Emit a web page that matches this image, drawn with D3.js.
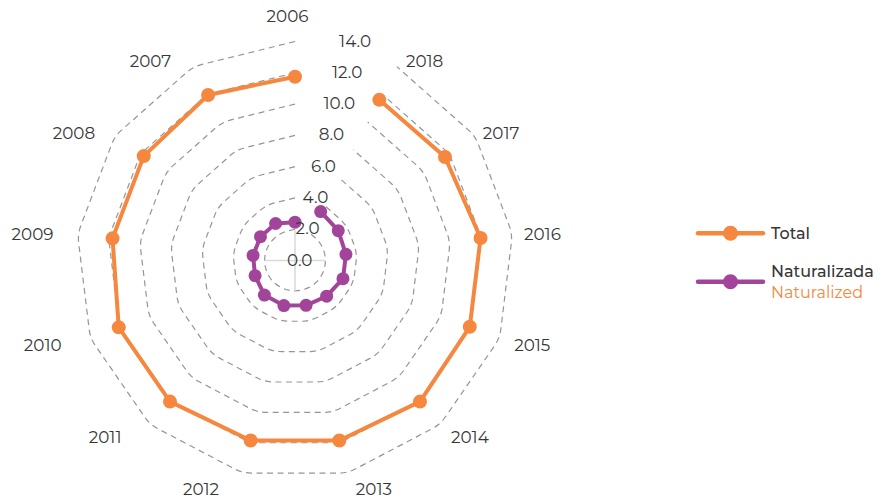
<!DOCTYPE html>
<html>
<head>
<meta charset="utf-8">
<script src="https://cdn.jsdelivr.net/npm/d3@7"></script>
<style>
  html, body { margin: 0; padding: 0; background: #ffffff; }
  svg { display: block; }
  text { font-family: Montserrat, Inter, "DejaVu Sans", sans-serif; fill: #363636; }
</style>
</head>
<body>
<svg id="chart" width="885" height="498"></svg>
<script>
// ---- data ----
const categories = ["2006","2007","2008","2009","2010","2011","2012","2013","2014","2015","2016","2017","2018"];
const totalValues = [11.75, 11.95, 11.75, 11.75, 12.05, 12.05, 11.85, 11.85, 12.05, 11.95, 11.95, 11.65, 11.6];
const naturalizedValues = [2.45, 2.67, 2.68, 2.7, 2.73, 2.95, 2.97, 2.95, 3.05, 3.28, 3.28, 3.36, 3.53];
const tickValues = [0, 2, 4, 6, 8, 10, 12, 14];
const tickLabels = ["0.0", "2.0", "4.0", "6.0", "8.0", "10.0", "12.0", "14.0"];
const seriesNames = ["Total", "Naturalizada"];
const seriesSubNames = ["", "Naturalized"];

// ---- layout ----
const svg = d3.select("#chart");
const cx = 295, cy = 260.5;
const orange = "#f5873f", purple = "#a3449b";
const colors = [orange, purple];

const r = d3.scaleLinear().domain([0, 14]).range([0, 219]);
const n = categories.length;
const angle = d3.scaleLinear().domain([0, n]).range([0, -2 * Math.PI]); // counter-clockwise from top
const pt = (i, v) => [cx + r(v) * Math.sin(angle(i)), cy - r(v) * Math.cos(angle(i))];

// ---- gridlines: open polylines with rounded corners ----
function roundedOpen(points, rad) {
  const p = d3.path();
  p.moveTo(points[0][0], points[0][1]);
  for (let i = 1; i < points.length - 1; i++) {
    const [px, py] = points[i - 1], [x, y] = points[i], [nx, ny] = points[i + 1];
    const l1 = Math.hypot(x - px, y - py), l2 = Math.hypot(nx - x, ny - y);
    const d = Math.min(rad, l1 / 2, l2 / 2);
    p.lineTo(x + (px - x) * d / l1, y + (py - y) * d / l1);
    p.quadraticCurveTo(x, y, x + (nx - x) * d / l2, y + (ny - y) * d / l2);
  }
  const last = points[points.length - 1];
  p.lineTo(last[0], last[1]);
  return p.toString();
}

const grid = svg.append("g");
tickValues.filter(v => v > 0).forEach(v => {
  const pts = categories.map((c, i) => pt(i, v));
  grid.append("path")
    .attr("d", roundedOpen(pts, 9))
    .attr("fill", "none")
    .attr("stroke", "#959595")
    .attr("stroke-width", 1.2)
    .attr("stroke-dasharray", "6,4.5");
});

// centre cross
const crossLen = r(2) - 1;
svg.append("line").attr("x1", cx - crossLen).attr("x2", cx + crossLen).attr("y1", cy).attr("y2", cy)
  .attr("stroke", "#d9d9d9").attr("stroke-width", 1.5);
svg.append("line").attr("x1", cx).attr("x2", cx).attr("y1", cy - crossLen).attr("y2", cy + crossLen)
  .attr("stroke", "#d9d9d9").attr("stroke-width", 1.5);

// ---- series ----
const lineGen = d3.line();
[totalValues, naturalizedValues].forEach((vals, s) => {
  const pts = vals.map((v, i) => pt(i, v));
  const g = svg.append("g");
  g.append("path").attr("d", lineGen(pts)).attr("fill", "none")
    .attr("stroke", colors[s]).attr("stroke-width", 4).attr("stroke-linejoin", "round");
  g.selectAll("circle").data(pts).join("circle")
    .attr("cx", d => d[0]).attr("cy", d => d[1]).attr("r", s === 0 ? 7 : 6.5)
    .attr("fill", colors[s]);
});

// ---- value axis labels ----
svg.append("g").selectAll("text").data(tickValues).join("text")
  .attr("x", v => cx + 4.7 + 0.253 * r(v))
  .attr("y", v => cy - r(v) - 1)
  .attr("dy", "0.36em")
  .attr("text-anchor", "middle")
  .style("font-size", "16.8px")
  .text((v, i) => tickLabels[i]);

// ---- category labels ----
const lcx = 287.5, lcy = 257;
svg.append("g").selectAll("text").data(categories).join("text")
  .each(function (c, i) {
    let th = -i * 360 / n;
    if (th <= -180) th += 360;
    const phi = th === 0 ? 0 : Math.sign(th) * (0.9 * Math.abs(th) + 10);
    const pr = phi * Math.PI / 180;
    const R = 249 - 11 * Math.cos(2 * (Math.abs(pr) - 20 * Math.PI / 180));
    d3.select(this)
      .attr("x", lcx + R * Math.sin(pr))
      .attr("y", lcy - R * Math.cos(pr));
  })
  .attr("dy", "0.36em")
  .attr("text-anchor", "middle")
  .style("font-size", "16.8px")
  .text(d => d);

// ---- legend ----
const legendY = [233.3, 281.7];
const leg = svg.append("g");
seriesNames.forEach((name, s) => {
  const y = legendY[s];
  leg.append("line").attr("x1", 698).attr("x2", 763).attr("y1", y).attr("y2", y)
    .attr("stroke", colors[s]).attr("stroke-width", 4.5).attr("stroke-linecap", "round");
  leg.append("circle").attr("cx", 730.5).attr("cy", y).attr("r", 7.5).attr("fill", colors[s]);
  const t = leg.append("text").attr("x", 771).style("font-size", "16px").style("font-weight", 500);
  if (s === 0) {
    t.attr("y", y + 6).text(name);
  } else {
    t.attr("y", y - 5).text(name);
    leg.append("text").attr("x", 771).attr("y", y + 16).style("font-size", "16px")
      .style("fill", orange).text(seriesSubNames[s]);
  }
});
</script>
</body>
</html>
